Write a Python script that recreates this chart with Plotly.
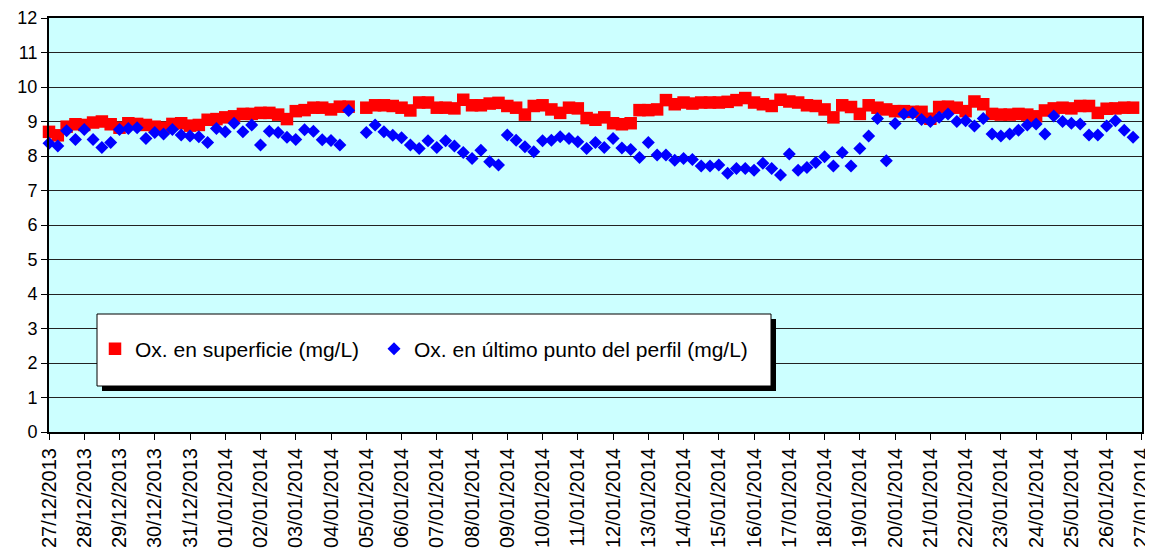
import plotly.graph_objects as go
import pandas as pd

start_time = "2013-12-27 00:00"
n_points = 124
times = pd.date_range(start_time, periods=n_points, freq="6h")

superficie = [
    8.70, 8.60, 8.85, 8.92, 8.90, 8.97, 9.00, 8.92, 8.82, 8.95,
    8.93, 8.90, 8.85, 8.82, 8.93, 8.95, 8.88, 8.90, 9.05, 9.07,
    9.12, 9.15, 9.22, 9.22, 9.25, 9.25, 9.20, 9.07, 9.30, 9.33,
    9.40, 9.40, 9.35, 9.43, 9.43, None, 9.40, 9.47, 9.47, 9.45,
    9.40, 9.32, 9.55, 9.55, 9.40, 9.40, 9.38, 9.63, 9.47, 9.47,
    9.52, 9.54, 9.45, 9.40, 9.20, 9.45, 9.47, 9.35, 9.25, 9.40,
    9.38, 9.10, 9.05, 9.12, 8.95, 8.92, 8.95, 9.33, 9.33, 9.35,
    9.62, 9.50, 9.55, 9.52, 9.55, 9.55, 9.55, 9.57, 9.62, 9.68,
    9.55, 9.50, 9.45, 9.63, 9.58, 9.55, 9.47, 9.45, 9.35, 9.12,
    9.47, 9.42, 9.22, 9.47, 9.40, 9.35, 9.30, 9.30, 9.28, 9.28,
    9.08, 9.42, 9.43, 9.40, 9.30, 9.58, 9.50, 9.22, 9.20, 9.20,
    9.22, 9.20, 9.15, 9.32, 9.38, 9.40, 9.38, 9.45, 9.45, 9.25,
    9.37, 9.38, 9.40, 9.40,
]

ultimo_punto = [
    8.37, 8.29, 8.73, 8.48, 8.77, 8.48, 8.25, 8.39, 8.77, 8.80,
    8.82, 8.51, 8.68, 8.64, 8.77, 8.61, 8.58, 8.56, 8.39, 8.80,
    8.70, 8.95, 8.70, 8.90, 8.32, 8.72, 8.68, 8.54, 8.48, 8.76,
    8.72, 8.47, 8.45, 8.32, 9.32, None, 8.68, 8.90, 8.70, 8.60,
    8.53, 8.32, 8.22, 8.44, 8.25, 8.44, 8.29, 8.10, 7.93, 8.17,
    7.83, 7.74, 8.61, 8.46, 8.27, 8.12, 8.44, 8.46, 8.56, 8.51,
    8.41, 8.22, 8.39, 8.25, 8.51, 8.23, 8.19, 7.96, 8.39, 8.03,
    8.03, 7.88, 7.93, 7.90, 7.71, 7.71, 7.74, 7.50, 7.64, 7.64,
    7.59, 7.79, 7.64, 7.45, 8.06, 7.59, 7.67, 7.81, 7.98, 7.71,
    8.10, 7.71, 8.22, 8.58, 9.09, 7.86, 8.94, 9.22, 9.24, 9.06,
    9.00, 9.12, 9.22, 9.00, 9.02, 8.87, 9.09, 8.64, 8.58, 8.64,
    8.75, 8.90, 8.93, 8.64, 9.16, 9.00, 8.95, 8.93, 8.61, 8.61,
    8.87, 9.02, 8.75, 8.54,
]

name_sup = "Ox. en superficie (mg/L)"
name_ult = "Ox. en último punto del perfil (mg/L)"

y_ticks = list(range(0, 13))
x_dates = pd.date_range("2013-12-27", "2014-01-27", freq="D")
x_tick_labels = [d.strftime("%d/%m/%Y") for d in x_dates]
x_range = [x_dates[0], x_dates[-1] + pd.Timedelta(minutes=5)]

FONT = "Arial, Liberation Sans, sans-serif"
PW, PH = 1093, 414  # plot area size in px
PL, PB = 49, 432    # page position of plot area left / bottom

fig = go.Figure()
fig.add_trace(go.Scatter(
    x=times, y=superficie, mode="markers", name=name_sup, legend="legend",
    cliponaxis=False,
    marker=dict(symbol="square", size=12.5, color="#FF0000", line=dict(width=0)),
))
fig.add_trace(go.Scatter(
    x=times, y=ultimo_punto, mode="markers", name=name_ult, legend="legend2",
    cliponaxis=False,
    marker=dict(symbol="diamond", size=10, color="#0000FF", line=dict(width=0)),
))


def px_x(p):
    return (p - PL) / PW


def px_y(p):
    return (PB - p) / PH


# legend box with drop shadow
fig.add_shape(type="rect", xref="paper", yref="paper",
              x0=px_x(102), x1=px_x(776), y0=px_y(391), y1=px_y(319),
              fillcolor="black", line=dict(width=0), layer="above")
fig.add_shape(type="rect", xref="paper", yref="paper",
              x0=px_x(97), x1=px_x(771), y0=px_y(386), y1=px_y(314),
              fillcolor="white", line=dict(color="black", width=1), layer="above")

legend_common = dict(
    orientation="h", yanchor="middle", xanchor="left",
    bgcolor="rgba(0,0,0,0)", borderwidth=0,
    font=dict(family=FONT, size=21, color="black"),
    itemwidth=30,
)

fig.update_layout(
    width=1145, height=545,
    margin=dict(l=41, r=11, t=10, b=121),
    paper_bgcolor="white",
    plot_bgcolor="#CCFFFF",
    font=dict(family=FONT, size=18, color="black"),
    showlegend=True,
    legend=dict(legend_common, x=px_x(95), y=px_y(349)),
    legend2=dict(legend_common, x=px_x(374), y=px_y(349)),
    xaxis=dict(
        type="date", range=x_range, automargin=False,
        tickmode="array", tickvals=list(x_dates), ticktext=x_tick_labels,
        ticklabeloverflow="allow",
        tickangle=-90, ticks="outside", ticklen=6, tickcolor="black", tickwidth=1,
        showgrid=False, showline=True, linecolor="black", linewidth=2, mirror=True,
        zeroline=False, tickfont=dict(size=20),
    ),
    yaxis=dict(
        range=[0, 12], tickvals=y_ticks, automargin=False,
        ticks="outside", ticklen=6, tickcolor="black", tickwidth=1,
        showgrid=True, gridcolor="#222222", gridwidth=1,
        showline=True, linecolor="black", linewidth=2, mirror=True,
        zeroline=False, tickfont=dict(size=18),
    ),
)

fig.write_html("out.html")
